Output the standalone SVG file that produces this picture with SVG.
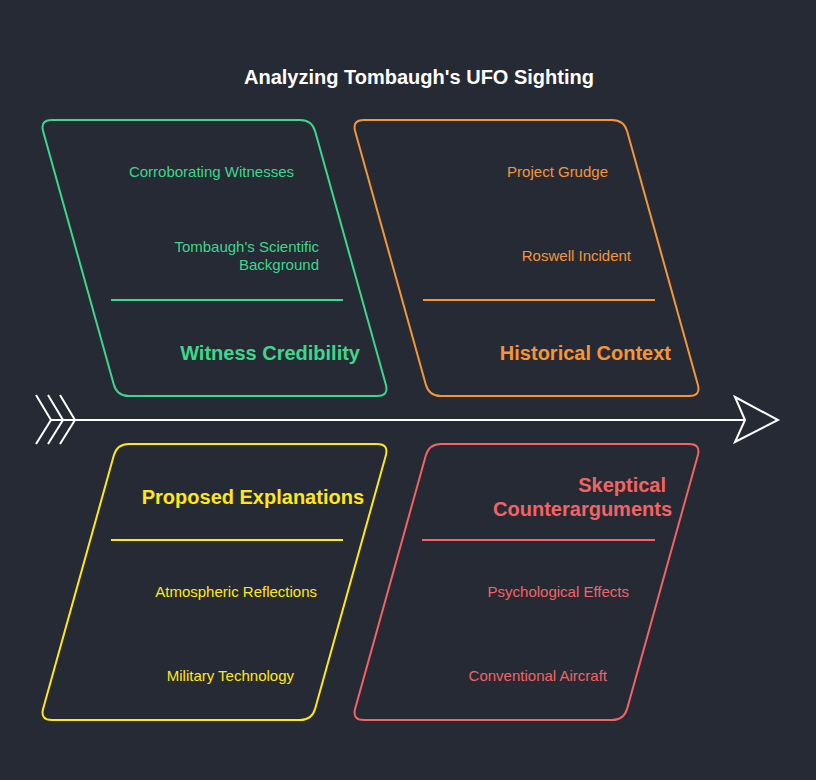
<svg xmlns="http://www.w3.org/2000/svg" width="816" height="780" viewBox="0 0 816 780">
<style>
.bg{fill:#262a35}
.box{fill:none;stroke-width:2}
.div{stroke-width:2}
text{font-family:"Liberation Sans",Arial,sans-serif}
.item{font-size:15px;text-anchor:end}
.head{font-size:20px;font-weight:bold;text-anchor:end}
.title{font-size:20px;font-weight:bold;fill:#ffffff;text-anchor:middle}
.g{stroke:#3fd68a}.gt{fill:#3fd68a}
.o{stroke:#f5953a}.ot{fill:#f5953a}
.y{stroke:#ffe81a}.yt{fill:#ffe81a}
.r{stroke:#f26464}.rt{fill:#f26464}
.spine{stroke:#ffffff;stroke-width:2;fill:none}
</style>
<rect class="bg" x="0" y="0" width="816" height="780"/>
<text class="title" x="419" y="84">Analyzing Tombaugh's UFO Sighting</text>
<g id="connectors">
<line class="spine" x1="51" y1="420" x2="744" y2="420"/>
<polyline class="spine" points="36,395 51,420 36,444"/>
<polyline class="spine" points="48,395 63,420 48,444"/>
<polyline class="spine" points="60,395 75,420 60,444"/>
<path class="spine" d="M735,397 L778,420 L735,442 L745,420 Z"/>
</g>
<g id="witness-credibility">
<path class="box g" d="M52,120 L300,120 Q312,120 315.2,131.6 L385.8,384.4 Q389,396 377,396 L129,396 Q117,396 113.8,384.4 L43.2,131.6 Q40,120 52,120 Z"/>
<line class="div g" x1="111" y1="300" x2="343" y2="300"/>
<text class="item gt" x="294" y="177">Corroborating Witnesses</text>
<text class="item gt" x="319" y="252">Tombaugh's Scientific</text>
<text class="item gt" x="319" y="270">Background</text>
<text class="head gt" x="360" y="360">Witness Credibility</text>
</g>
<g id="historical-context">
<path class="box o" d="M364,120 L612,120 Q624,120 627.2,131.6 L697.8,384.4 Q701,396 689,396 L441,396 Q429,396 425.8,384.4 L355.2,131.6 Q352,120 364,120 Z"/>
<line class="div o" x1="423" y1="300" x2="655" y2="300"/>
<text class="item ot" x="608" y="177">Project Grudge</text>
<text class="item ot" x="631" y="261">Roswell Incident</text>
<text class="head ot" x="671" y="360">Historical Context</text>
</g>
<g id="proposed-explanations">
<path class="box y" d="M129,444 L377,444 Q389,444 385.8,455.6 L315.2,708.4 Q312,720 300,720 L52,720 Q40,720 43.2,708.4 L113.8,455.6 Q117,444 129,444 Z"/>
<line class="div y" x1="111" y1="540" x2="343" y2="540"/>
<text class="head yt" x="364" y="504">Proposed Explanations</text>
<text class="item yt" x="317" y="597">Atmospheric Reflections</text>
<text class="item yt" x="294" y="681">Military Technology</text>
</g>
<g id="skeptical-counterarguments">
<path class="box r" d="M441,444 L689,444 Q701,444 697.8,455.6 L627.2,708.4 Q624,720 612,720 L364,720 Q352,720 355.2,708.4 L425.8,455.6 Q429,444 441,444 Z"/>
<line class="div r" x1="422" y1="540" x2="655" y2="540"/>
<text class="head rt" x="666" y="492">Skeptical</text>
<text class="head rt" x="672" y="516">Counterarguments</text>
<text class="item rt" x="629" y="597">Psychological Effects</text>
<text class="item rt" x="607" y="681">Conventional Aircraft</text>
</g>
</svg>
